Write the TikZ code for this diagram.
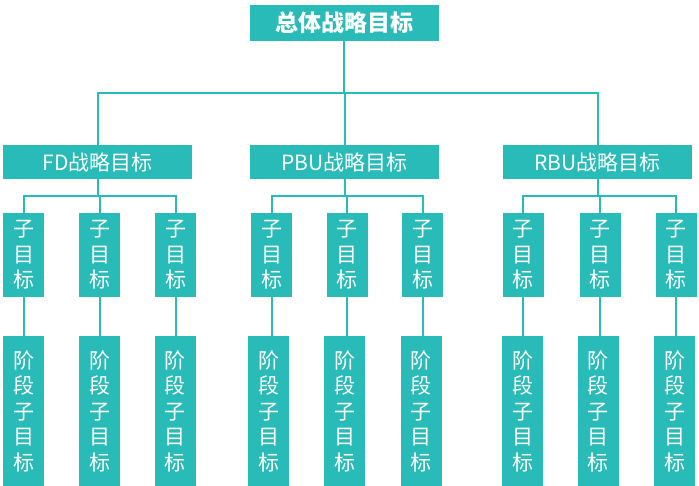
\documentclass[tikz,border=0pt]{standalone}
\usepackage{fontspec}
\setmainfont{Noto Sans CJK SC}
\definecolor{teal1}{HTML}{29BBB7}
\begin{document}
\begin{tikzpicture}[x=1pt,y=-1pt,
  box/.style={fill=teal1,draw=none,text=white,inner sep=0pt,align=center},
  wide/.style={box,minimum width=189pt,minimum height=34pt,font=\fontsize{21}{24}\selectfont},
  sub/.style={box,minimum width=41pt,minimum height=84pt,font=\fontsize{21}{25.5}\selectfont},
  stagebox/.style={box,minimum width=41pt,minimum height=150pt,font=\fontsize{21}{25.5}\selectfont},
  conn/.style={draw=teal1,line width=2pt}]
\useasboundingbox (0,0) rectangle (699,485);
\begin{scope}
\clip (0,0) rectangle (699,485);
\node[box,minimum width=189pt,minimum height=36pt,font=\fontsize{23}{26}\selectfont\bfseries] (top) at (344,23) {总体战略目标};
\node[wide] (fd) at (97.5,162) {FD战略目标};
\node[wide] (pbu) at (344.5,162) {PBU战略目标};
\node[wide] (rbu) at (597.5,162) {RBU战略目标};
% sub boxes
\foreach \n/\cx in {a/23.5,b/99.5,c/175.5,d/271.5,e/347,f/422.5,g/523,h/600,i/676}{
  \node[sub] (s\n) at (\cx,255) {子\\目\\标};
}
\foreach \n/\cx in {a/23.5,b/99.5,c/175,d/268.5,e/344.5,f/421,g/522.5,h/598,i/674.5}{
  \node[stagebox] (t\n) at (\cx,411) {阶\\段\\子\\目\\标};
}
\end{scope}
\coordinate (bar) at (0,93);
\draw[conn] (top.south) -- (top.south |- bar);
\draw[conn] (fd.north) -- (fd.north |- bar) -- (rbu.north |- bar) -- (rbu.north);
\draw[conn] (pbu.north) -- (pbu.north |- bar);
\coordinate (sbar) at (0,196);
\foreach \p/\l/\m/\r in {fd/a/b/c,pbu/d/e/f,rbu/g/h/i}{
  \draw[conn] (\p.south) -- (\p.south |- sbar);
  \draw[conn] (s\l.north) -- (s\l.north |- sbar) -- (s\r.north |- sbar) -- (s\r.north);
  \draw[conn] (s\m.north) -- (s\m.north |- sbar);
}
\foreach \n in {a,b,c,d,e,f,g,h,i}{
  \draw[conn] (s\n.south) -- (s\n.south |- t\n.north);
}
\end{tikzpicture}
\end{document}
